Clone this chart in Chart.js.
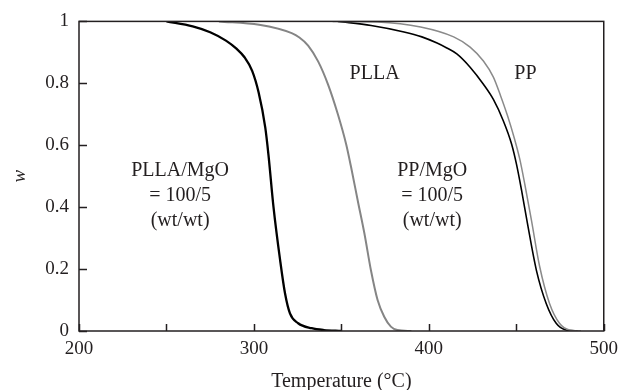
<!DOCTYPE html>
<html>
<head>
<meta charset="utf-8">
<script src="https://cdn.jsdelivr.net/npm/chart.js@4/dist/chart.umd.min.js"></script>
<style>
  html, body { margin: 0; padding: 0; background: #fff; }
</style>
</head>
<body>
<canvas id="chart" width="625" height="390"></canvas>
<script>
// TGA curves
const pllaMgoT = [250, 265, 275, 284, 290, 294.5, 299, 302.7, 306.5, 308.3, 311.2, 315, 317.8, 320.6, 325.3, 333, 340, 350]
const pllaMgoW = [1, 0.984, 0.965, 0.938, 0.912, 0.885, 0.84, 0.77, 0.657, 0.57, 0.4, 0.228, 0.121, 0.057, 0.025, 0.009, 0.003, 0]

const pllaT = [280, 303, 321.6, 326, 331, 336.7, 342.4, 348, 352.7, 355.6, 359.4, 363.2, 366.9, 370.7, 374.5, 378.3, 382, 390]
const pllaW = [1, 0.989, 0.962, 0.948, 0.922, 0.871, 0.796, 0.7, 0.604, 0.528, 0.42, 0.314, 0.196, 0.1, 0.046, 0.014, 0.003, 0]

const ppMgoT = [348, 367, 385.8, 396, 404.7, 410, 416, 423.6, 431.2, 436.9, 442.5, 447.3, 450.1, 453, 456.3, 461.5, 467.1, 472.8, 478.5, 485]
const ppMgoW = [1, 0.987, 0.966, 0.95, 0.93, 0.915, 0.895, 0.852, 0.797, 0.748, 0.68, 0.604, 0.539, 0.455, 0.35, 0.196, 0.089, 0.025, 0.003, 0]

const ppT = [345, 370.7, 395.3, 414.2, 423.6, 431.2, 436.9, 441, 445, 449, 452, 455, 458.6, 463.3, 469, 474.7, 480.4, 487]
const ppW = [1, 0.998, 0.982, 0.95, 0.917, 0.872, 0.82, 0.76, 0.695, 0.62, 0.555, 0.47, 0.36, 0.21, 0.089, 0.025, 0.003, 0]

const xMajorTicks = [200, 300, 400, 500]
const xMinorTicks = [250, 350, 450]
const yTicks = [0, 0.2, 0.4, 0.6, 0.8, 1]

// in-plot labels, placed in data units [text, temperature, w]
const notes = [
  ['PLLA/MgO', 257.8, 0.518],
  ['= 100/5', 257.8, 0.437],
  ['(wt/wt)', 257.8, 0.357],
  ['PP/MgO', 401.9, 0.518],
  ['= 100/5', 401.9, 0.437],
  ['(wt/wt)', 401.9, 0.357],
  ['PLLA', 369, 0.83],
  ['PP', 455.2, 0.83]
]

const serif = "'Liberation Serif', 'DejaVu Serif', serif"
const ink = '#231f20'

function pts(xs, ys) {
  return xs.map((x, i) => ({x: x, y: ys[i]}))
}

const frameAndTicks = {
  id: 'frameAndTicks',
  afterDraw(chart) {
    const ctx = chart.ctx
    const a = chart.chartArea
    const xs = chart.scales.x
    const ys = chart.scales.y
    ctx.save()
    ctx.strokeStyle = ink
    ctx.lineWidth = 1.5
    ctx.strokeRect(a.left, a.top, a.right - a.left, a.bottom - a.top)
    ctx.beginPath()
    xMajorTicks.concat(xMinorTicks).forEach(v => {
      const px = Math.round(xs.getPixelForValue(v)) + 0.5
      ctx.moveTo(px, a.bottom)
      ctx.lineTo(px, a.bottom - 7)
    })
    yTicks.forEach(v => {
      const py = Math.round(ys.getPixelForValue(v)) + 0.5
      ctx.moveTo(a.left, py)
      ctx.lineTo(a.left + 8, py)
    })
    ctx.stroke()

    ctx.fillStyle = ink
    ctx.font = '20px ' + serif
    ctx.textAlign = 'center'
    ctx.textBaseline = 'middle'
    notes.forEach(n => {
      ctx.fillText(n[0], xs.getPixelForValue(n[1]), ys.getPixelForValue(n[2]))
    })
    ctx.restore()
  }
}

new Chart(document.getElementById('chart'), {
  type: 'line',
  data: {
    datasets: [
      {label: 'PLLA/MgO', data: pts(pllaMgoT, pllaMgoW), borderColor: '#000', borderWidth: 2.3},
      {label: 'PLLA', data: pts(pllaT, pllaW), borderColor: '#858585', borderWidth: 2},
      {label: 'PP', data: pts(ppT, ppW), borderColor: '#8a8a8a', borderWidth: 1.5},
      {label: 'PP/MgO', data: pts(ppMgoT, ppMgoW), borderColor: '#000', borderWidth: 1.6}
    ]
  },
  options: {
    responsive: false,
    animation: false,
    devicePixelRatio: 1,
    elements: {
      point: {radius: 0},
      line: {cubicInterpolationMode: 'monotone', fill: false}
    },
    layout: {padding: {top: 20, right: 17, left: 0, bottom: 0}},
    plugins: {
      legend: {display: false},
      tooltip: {enabled: false}
    },
    scales: {
      x: {
        type: 'linear',
        min: 200,
        max: 500,
        afterFit: s => { s.height = 59 },
        afterBuildTicks: s => { s.ticks = xMajorTicks.map(v => ({value: v})) },
        grid: {display: false, drawTicks: false},
        border: {display: false},
        ticks: {
          padding: 7,
          color: ink,
          font: {family: serif, size: 19}
        },
        title: {
          display: true,
          text: 'Temperature (°C)',
          color: ink,
          padding: {top: 0, bottom: -4},
          font: {family: serif, size: 20}
        }
      },
      y: {
        min: 0,
        max: 1,
        afterFit: s => { s.width = 79 },
        afterBuildTicks: s => { s.ticks = yTicks.map(v => ({value: v})) },
        grid: {display: false, drawTicks: false},
        border: {display: false},
        ticks: {
          padding: 10,
          color: ink,
          font: {family: serif, size: 19},
          callback: v => String(v)
        },
        title: {
          display: true,
          text: 'w',
          color: ink,
          padding: {top: 9, bottom: 0},
          font: {family: serif, size: 19, style: 'italic'}
        }
      }
    }
  },
  plugins: [frameAndTicks]
})
</script>
</body>
</html>
